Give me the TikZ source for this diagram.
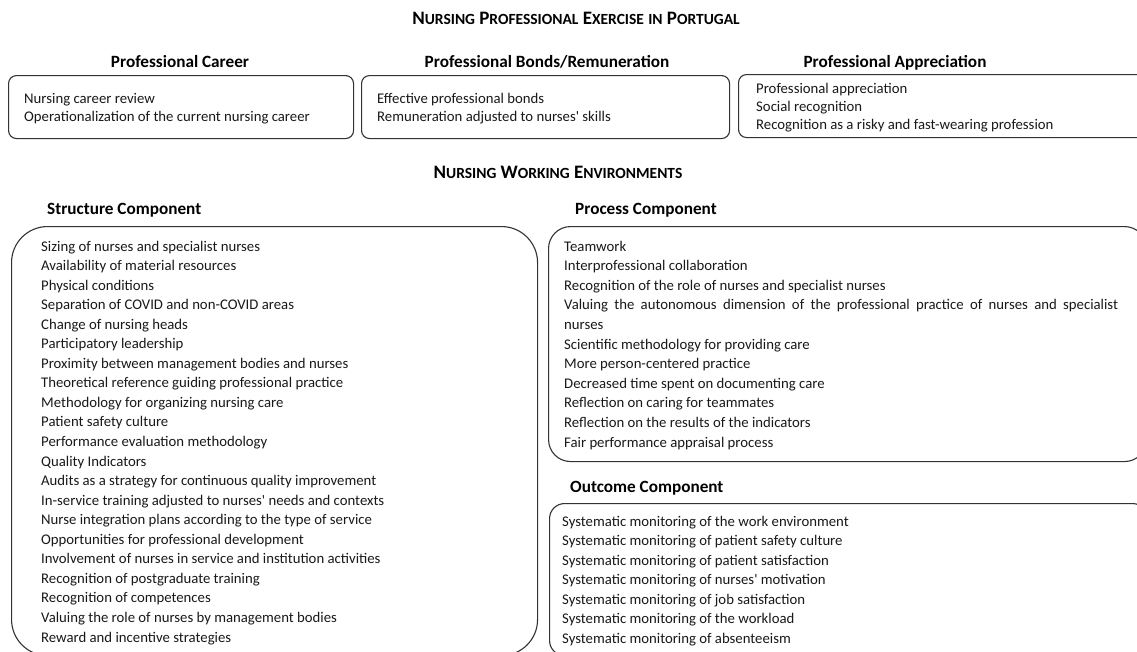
\documentclass[tikz,border=0pt]{standalone}
\usepackage{fontspec}
\setmainfont{Carlito}
\newcommand\fsc[1]{{\fontsize{15.5}{16}\selectfont #1}}
\newcommand\apos{\textquotesingle}
\tikzset{
  box/.style={draw=black!80, line width=1.1pt, inner sep=0pt, anchor=north west},
  item/.style={anchor=base west, inner sep=0pt, text=black!90, font=\fontsize{14.75}{17}\selectfont},
  head/.style={anchor=base, inner sep=0pt, text=black, font=\bfseries\fontsize{17.2}{20}\selectfont},
  headl/.style={head, anchor=base west},
  title/.style={anchor=base, inner sep=0pt, text=black, font=\bfseries\fontsize{19}{20}\selectfont}
}
\begin{document}
\begin{tikzpicture}[x=1pt,y=-1pt]
\clip (0,0) rectangle (1137,651);
\fill[white] (0,0) rectangle (1137,651);

% titles
\node[title] (t1) at (576,24) {N\fsc{URSING} P\fsc{ROFESSIONAL} E\fsc{XERCISE} \fsc{IN} P\fsc{ORTUGAL}};
\node[title] (t2) at (558,178) {N\fsc{URSING} W\fsc{ORKING} E\fsc{NVIRONMENTS}};

% top headings
\node[head] (h1) at (180,67) {Professional Career};
\node[head] (h2) at (547,67) {Professional Bonds/Remuneration};
\node[head] (h3) at (895,67) {Professional Appreciation};

% top boxes
\node[box, rounded corners=8pt, minimum width=345pt, minimum height=63pt] (b1) at (8,75) {};
\node[box, rounded corners=8pt, minimum width=368pt, minimum height=63pt] (b2) at (361,75) {};
\node[box, rounded corners=8pt, minimum width=420pt, minimum height=63pt] (b3) at (738,74) {};

\node[item] (b1a) at (24,103) {Nursing career review};
\node[item] (b1b) at (24,121) {Operationalization of the current nursing career};
\node[item] (b2a) at (377,103) {Effective professional bonds};
\node[item] (b2b) at (377,121) {Remuneration adjusted to nurses\apos\ skills};
\node[item] (b3a) at (756,93) {Professional appreciation};
\node[item] (b3b) at (756,111) {Social recognition};
\node[item] (b3c) at (756,129) {Recognition as a risky and fast-wearing profession};

% component headings
\node[headl] (hs) at (47,214) {Structure Component};
\node[headl] (hp) at (575,214) {Process Component};
\node[headl] (ho) at (570,492) {Outcome Component};

% component boxes
\node[box, rounded corners=36pt, minimum width=526pt, minimum height=429pt] (bs) at (11,226) {};
\node[box, rounded corners=22pt, minimum width=598pt, minimum height=235pt] (bp) at (548,226) {};
\node[box, rounded corners=15pt, minimum width=598pt, minimum height=152pt] (bo) at (549,503) {};

% structure items
\foreach \t [count=\i from 0] in {
  Sizing of nurses and specialist nurses,
  Availability of material resources,
  Physical conditions,
  Separation of COVID and non-COVID areas,
  Change of nursing heads,
  Participatory leadership,
  Proximity between management bodies and nurses,
  Theoretical reference guiding professional practice,
  Methodology for organizing nursing care,
  Patient safety culture,
  Performance evaluation methodology,
  Quality Indicators,
  Audits as a strategy for continuous quality improvement,
  In-service training adjusted to nurses\apos\ needs and contexts,
  Nurse integration plans according to the type of service,
  Opportunities for professional development,
  Involvement of nurses in service and institution activities,
  Recognition of postgraduate training,
  Recognition of competences,
  Valuing the role of nurses by management bodies,
  Reward and incentive strategies}
  \node[item] (s\i) at (41,{251+19.55*\i}) {\t};

% process items
\foreach \t [count=\i from 0] in {
  Teamwork,
  Interprofessional collaboration,
  Recognition of the role of nurses and specialist nurses,
  {\makebox[554pt][s]{Valuing the autonomous dimension of the professional practice of nurses and specialist}},
  nurses,
  Scientific methodology for providing care,
  More person-centered practice,
  Decreased time spent on documenting care,
  Reflection on caring for teammates,
  Reflection on the results of the indicators,
  Fair performance appraisal process}
  \node[item] (p\i) at (564,{251+19.6*\i}) {\t};

% outcome items
\foreach \t [count=\i from 0] in {
  Systematic monitoring of the work environment,
  Systematic monitoring of patient safety culture,
  Systematic monitoring of patient satisfaction,
  Systematic monitoring of nurses\apos\ motivation,
  Systematic monitoring of job satisfaction,
  Systematic monitoring of the workload,
  Systematic monitoring of absenteeism}
  \node[item] (o\i) at (562,{526+19.5*\i}) {\t};
\end{tikzpicture}
\end{document}
